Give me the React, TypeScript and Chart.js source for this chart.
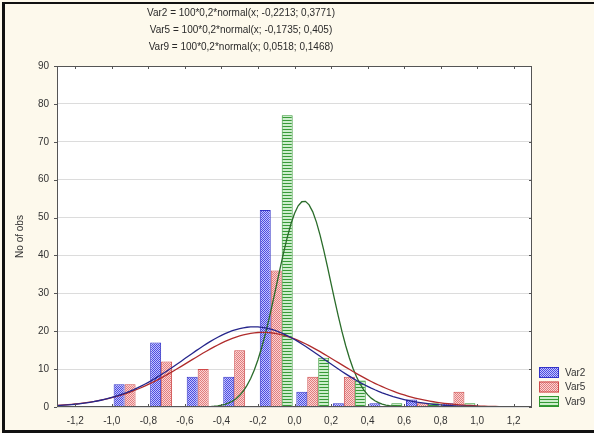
import { useEffect, useRef } from 'react';
import { Chart, registerables } from 'chart.js';

Chart.register(...registerables);

// Histogram bins (class centres, width 0,2) and counts per variable
const BIN_CENTERS = [-1.1, -0.9, -0.7, -0.5, -0.3, -0.1, 0.1, 0.3, 0.5, 0.7, 0.9, 1.1];
const VAR2 = [0, 6, 17, 8, 8, 52, 4, 1, 1, 2, 1, 0];
const VAR5 = [0, 6, 12, 10, 15, 36, 8, 8, 0, 1, 4, 0];
const VAR9 = [0, 0, 0, 0, 0, 77, 13, 7, 1, 1, 1, 0];
const SERIES_NAMES = ['Var2', 'Var5', 'Var9'];

// Fitted normal curves: 100 * 0,2 * normal(x; mean; sd)
const FIT_N = 100;
const FIT_BIN = 0.2;
const FIT_MEAN = [-0.2213, -0.1735, 0.0518];
const FIT_SD = [0.3771, 0.405, 0.1468];
const FIT_LABELS = [
  'Var2 = 100*0,2*normal(x; -0,2213; 0,3771)',
  'Var5 = 100*0,2*normal(x; -0,1735; 0,405)',
  'Var9 = 100*0,2*normal(x; 0,0518; 0,1468)',
];

const X_MIN = -1.3;
const X_MAX = 1.3;
const X_TICKS = [-1.2, -1.0, -0.8, -0.6, -0.4, -0.2, 0.0, 0.2, 0.4, 0.6, 0.8, 1.0, 1.2];
const Y_TICKS = [0, 10, 20, 30, 40, 50, 60, 70, 80, 90];
const Y_TITLE = 'No of obs';

const FONT = "'Liberation Sans', Arial, sans-serif";
const BORDER_COLORS = ['#3434c8', '#cf4a4a', '#2f962f'];
const CURVE_COLORS = ['#26268c', '#b02c2c', '#2a6c2a'];

function makePattern(kind: string): CanvasPattern | string {
  const c = document.createElement('canvas');
  const h = kind === 'horiz' ? 3 : 2;
  c.width = 2;
  c.height = h;
  const g = c.getContext('2d');
  if (!g) return '#ccc';
  if (kind === 'blue') {
    g.fillStyle = '#c4c4fa';
    g.fillRect(0, 0, 2, 2);
    g.fillStyle = '#4c4ce2';
    g.fillRect(0, 0, 1, 1);
    g.fillRect(1, 1, 1, 1);
  } else if (kind === 'red') {
    g.fillStyle = '#f9d4d4';
    g.fillRect(0, 0, 2, 2);
    g.fillStyle = '#e27c7c';
    g.fillRect(0, 0, 1, 1);
    g.fillRect(1, 1, 1, 1);
  } else {
    g.fillStyle = '#cdeecd';
    g.fillRect(0, 0, 2, 3);
    g.fillStyle = '#379a37';
    g.fillRect(0, 0, 2, 1);
  }
  const p = g.createPattern(c, 'repeat');
  return p || '#ccc';
}

function normalCurve(mean: number, sd: number) {
  const pts: { x: number; y: number }[] = [];
  const steps = 130;
  for (let i = 0; i <= steps; i++) {
    const x = X_MIN + ((X_MAX - X_MIN) * i) / steps;
    const z = (x - mean) / sd;
    const y = (FIT_N * FIT_BIN * Math.exp(-0.5 * z * z)) / (sd * Math.sqrt(2 * Math.PI));
    pts.push({ x, y });
  }
  return pts;
}

const fmt = (v: number) => (Math.round(v * 10) / 10).toFixed(1).replace('.', ',');

export default function App() {
  const ref = useRef<HTMLCanvasElement>(null);

  useEffect(() => {
    const canvas = ref.current;
    if (!canvas) return;
    const fills = [makePattern('blue'), makePattern('red'), makePattern('horiz')];
    const counts = [VAR2, VAR5, VAR9];

    const decor = {
      id: 'decor',
      beforeDraw(chart: any) {
        const { ctx, chartArea: a, width, height } = chart;
        ctx.save();
        ctx.fillStyle = '#fdf9ec';
        ctx.fillRect(0, 0, width, height);
        ctx.fillStyle = '#ffffff';
        ctx.fillRect(a.left, a.top, a.right - a.left, a.bottom - a.top);
        ctx.restore();
      },
      afterDraw(chart: any) {
        const { ctx, chartArea: a } = chart;
        const xs = chart.scales.x;
        const ys = chart.scales.y;
        ctx.save();
        // plot frame
        ctx.strokeStyle = '#555555';
        ctx.lineWidth = 1;
        ctx.strokeRect(a.left + 0.5, a.top + 0.5, a.right - a.left - 1, a.bottom - a.top - 1);
        // tick marks
        ctx.beginPath();
        X_TICKS.forEach((v) => {
          const px = Math.round(xs.getPixelForValue(v)) + 0.5;
          ctx.moveTo(px, a.bottom);
          ctx.lineTo(px, a.bottom - 3);
          ctx.moveTo(px, a.top);
          ctx.lineTo(px, a.top + 3);
        });
        Y_TICKS.forEach((v) => {
          const py = Math.round(ys.getPixelForValue(v)) + 0.5;
          ctx.moveTo(a.left - 3, py);
          ctx.lineTo(a.left, py);
          ctx.moveTo(a.right, py);
          ctx.lineTo(a.right - 3, py);
        });
        ctx.stroke();

        // fitted-function header
        ctx.fillStyle = '#2a2a2a';
        ctx.font = `10px ${FONT}`;
        ctx.textAlign = 'center';
        ctx.textBaseline = 'middle';
        FIT_LABELS.forEach((t, i) => ctx.fillText(t, 241, 13 + i * 17));

        // legend
        ctx.textAlign = 'left';
        SERIES_NAMES.forEach((name, i) => {
          const top = 367 + i * 14.5;
          ctx.fillStyle = fills[i] as any;
          ctx.fillRect(539, top, 20, 11);
          ctx.strokeStyle = BORDER_COLORS[i];
          ctx.strokeRect(539.5, top + 0.5, 19, 10);
          ctx.fillStyle = '#333333';
          ctx.fillText(name, 565, top + 6);
        });

        // outer frame
        ctx.fillStyle = '#111111';
        ctx.fillRect(2, 2, 592, 2);
        ctx.fillRect(2, 2, 3, 431);
        ctx.fillRect(2, 430, 592, 3);
        ctx.restore();
      },
    };

    const barSets = SERIES_NAMES.map((name, i) => ({
      type: 'bar' as const,
      label: name,
      data: BIN_CENTERS.map((x, j) => ({ x, y: counts[i][j] })),
      backgroundColor: fills[i],
      borderColor: BORDER_COLORS[i],
      borderWidth: 1,
      borderSkipped: 'start' as const,
      categoryPercentage: 0.9,
      barPercentage: 1.0,
      order: 2,
    }));

    const curveSets = SERIES_NAMES.map((name, i) => ({
      type: 'line' as const,
      label: name + ' fit',
      data: normalCurve(FIT_MEAN[i], FIT_SD[i]),
      borderColor: CURVE_COLORS[i],
      borderWidth: 1.3,
      pointRadius: 0,
      tension: 0,
      fill: false,
      order: 1,
    }));

    const chart = new Chart(canvas, {
      type: 'bar',
      data: { datasets: [...barSets, ...curveSets] as any },
      options: {
        animation: false,
        responsive: true,
        maintainAspectRatio: false,
        devicePixelRatio: 1,
        layout: { padding: { left: 10, top: 66, right: 62, bottom: 0 } },
        plugins: {
          legend: { display: false },
          tooltip: { enabled: false },
          title: { display: false },
        },
        scales: {
          x: {
            type: 'linear',
            min: X_MIN,
            max: X_MAX,
            offset: false,
            afterBuildTicks: (s: any) => {
              s.ticks = X_TICKS.map((value) => ({ value }));
            },
            afterFit: (s: any) => {
              s.height = 26;
            },
            grid: { display: false, offset: false, drawTicks: false },
            border: { display: false },
            ticks: {
              autoSkip: false,
              maxRotation: 0,
              padding: 8,
              color: '#333333',
              font: { family: FONT, size: 10 },
              callback: (v: any) => fmt(Number(v)),
            },
          },
          y: {
            type: 'linear',
            min: 0,
            max: 90,
            afterBuildTicks: (s: any) => {
              s.ticks = Y_TICKS.map((value) => ({ value }));
            },
            afterFit: (s: any) => {
              s.width = 47;
            },
            grid: { color: '#dcdcdc', lineWidth: 1, drawTicks: false },
            border: { display: false },
            title: {
              display: true,
              text: Y_TITLE,
              color: '#333333',
              font: { family: FONT, size: 10 },
            },
            ticks: {
              padding: 8,
              color: '#333333',
              font: { family: FONT, size: 10 },
              callback: (v: any) => String(v),
            },
          },
        },
      },
      plugins: [decor],
    });

    return () => chart.destroy();
  }, []);

  return (
    <div style={{ position: 'fixed', left: 0, top: 0, width: 594, height: 433 }}>
      <canvas ref={ref} />
    </div>
  );
}
